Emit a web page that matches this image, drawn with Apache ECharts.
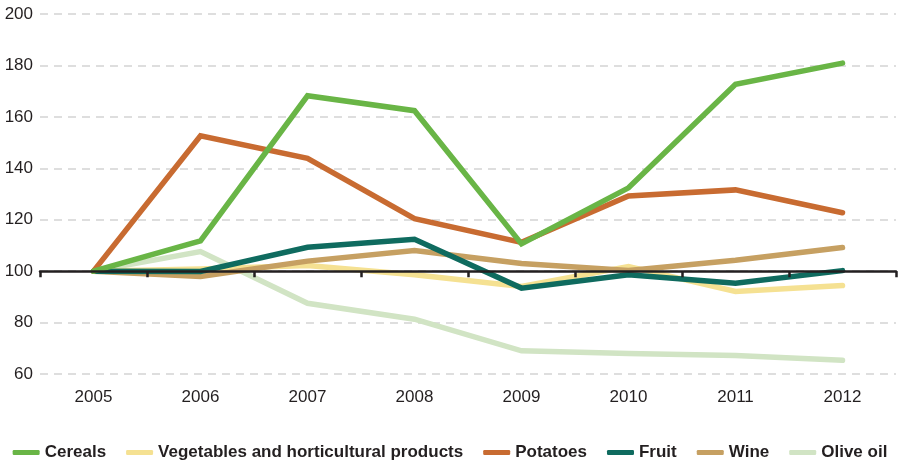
<!DOCTYPE html>
<html>
<head>
<meta charset="utf-8">
<script src="https://cdn.jsdelivr.net/npm/echarts@6/dist/echarts.min.js"></script>
<style>
  html, body { margin: 0; padding: 0; background: #fff; }
  #chart { width: 900px; height: 460px; }
</style>
</head>
<body>
<div id="chart"></div>
<script>
// index 2005 = 100
var years = ['2005', '2006', '2007', '2008', '2009', '2010', '2011', '2012']
var cereals = [100, 111.8, 168.2, 162.4, 110.6, 132.4, 172.7, 180.9]
var vegetables = [100, 100.8, 102.2, 98.6, 94.0, 101.8, 92.1, 94.4]
var potatoes = [100, 152.6, 143.9, 120.4, 111.2, 129.2, 131.6, 122.7]
var fruit = [100, 99.9, 109.3, 112.4, 93.4, 98.6, 95.3, 100.2]
var wine = [100, 97.9, 103.9, 108.0, 103.0, 100.3, 104.2, 109.2]
var oliveOil = [100, 107.6, 87.5, 81.3, 69.0, 68.0, 67.2, 65.3]

var yTicks = [60, 80, 100, 120, 140, 160, 180, 200]

var colors = {
  cereals: '#69b546',
  vegetables: '#f5e192',
  potatoes: '#c86b31',
  fruit: '#0f6b5f',
  wine: '#c6a062',
  oliveOil: '#d1e4c4'
}

var chart = echarts.init(document.getElementById('chart'))

function mkLine (name, data, color, z) {
  return {
    name: name,
    type: 'line',
    data: data,
    symbol: 'none',
    z: z,
    lineStyle: { color: color, width: 5.5, cap: 'round', join: 'miter' },
    itemStyle: { color: color }
  }
}

var gridTop = 14
var gridBottom = 86
var plotH = 460 - gridTop - gridBottom
var yMin = yTicks[0]
var yMax = yTicks[yTicks.length - 1]

var option = {
  animation: false,
  textStyle: { fontFamily: 'Liberation Sans, Arial, sans-serif' },
  grid: { left: 40, right: 4, top: gridTop, bottom: gridBottom },
  legend: {
    top: 439,
    left: 'center',
    padding: [5, 0, 5, 12],
    itemWidth: 27,
    itemHeight: 5,
    itemGap: 20,
    icon: 'roundRect',
    textStyle: { fontSize: 17, fontWeight: 'bold', color: '#231f20' },
    data: ['Cereals', 'Vegetables and horticultural products', 'Potatoes', 'Fruit', 'Wine', 'Olive oil']
  },
  xAxis: [
    {
      type: 'category',
      data: years,
      boundaryGap: true,
      axisLine: { show: false },
      axisTick: { show: false },
      axisLabel: { fontSize: 17, color: '#231f20', margin: 15 }
    },
    {
      type: 'category',
      data: years,
      boundaryGap: true,
      position: 'bottom',
      // axis line drawn at index value 100
      offset: -plotH * (100 - yMin) / (yMax - yMin),
      axisLine: { show: true, lineStyle: { color: '#231f20', width: 2.5 } },
      axisTick: { show: true, inside: false, length: 6, lineStyle: { color: '#231f20', width: 2.5 } },
      axisLabel: { show: false },
      z: 10
    }
  ],
  yAxis: {
    type: 'value',
    min: yMin,
    max: yMax,
    interval: 20,
    axisLine: { show: false },
    axisTick: { show: false },
    axisLabel: { fontSize: 17, color: '#231f20', margin: 7 },
    splitLine: { lineStyle: { color: '#d4d4d4', width: 1.5, type: [8, 6] } }
  },
  series: [
    mkLine('Olive oil', oliveOil, colors.oliveOil, 2),
    mkLine('Vegetables and horticultural products', vegetables, colors.vegetables, 3),
    mkLine('Wine', wine, colors.wine, 4),
    mkLine('Fruit', fruit, colors.fruit, 5),
    mkLine('Potatoes', potatoes, colors.potatoes, 6),
    mkLine('Cereals', cereals, colors.cereals, 7)
  ]
}

chart.setOption(option)
</script>
</body>
</html>
